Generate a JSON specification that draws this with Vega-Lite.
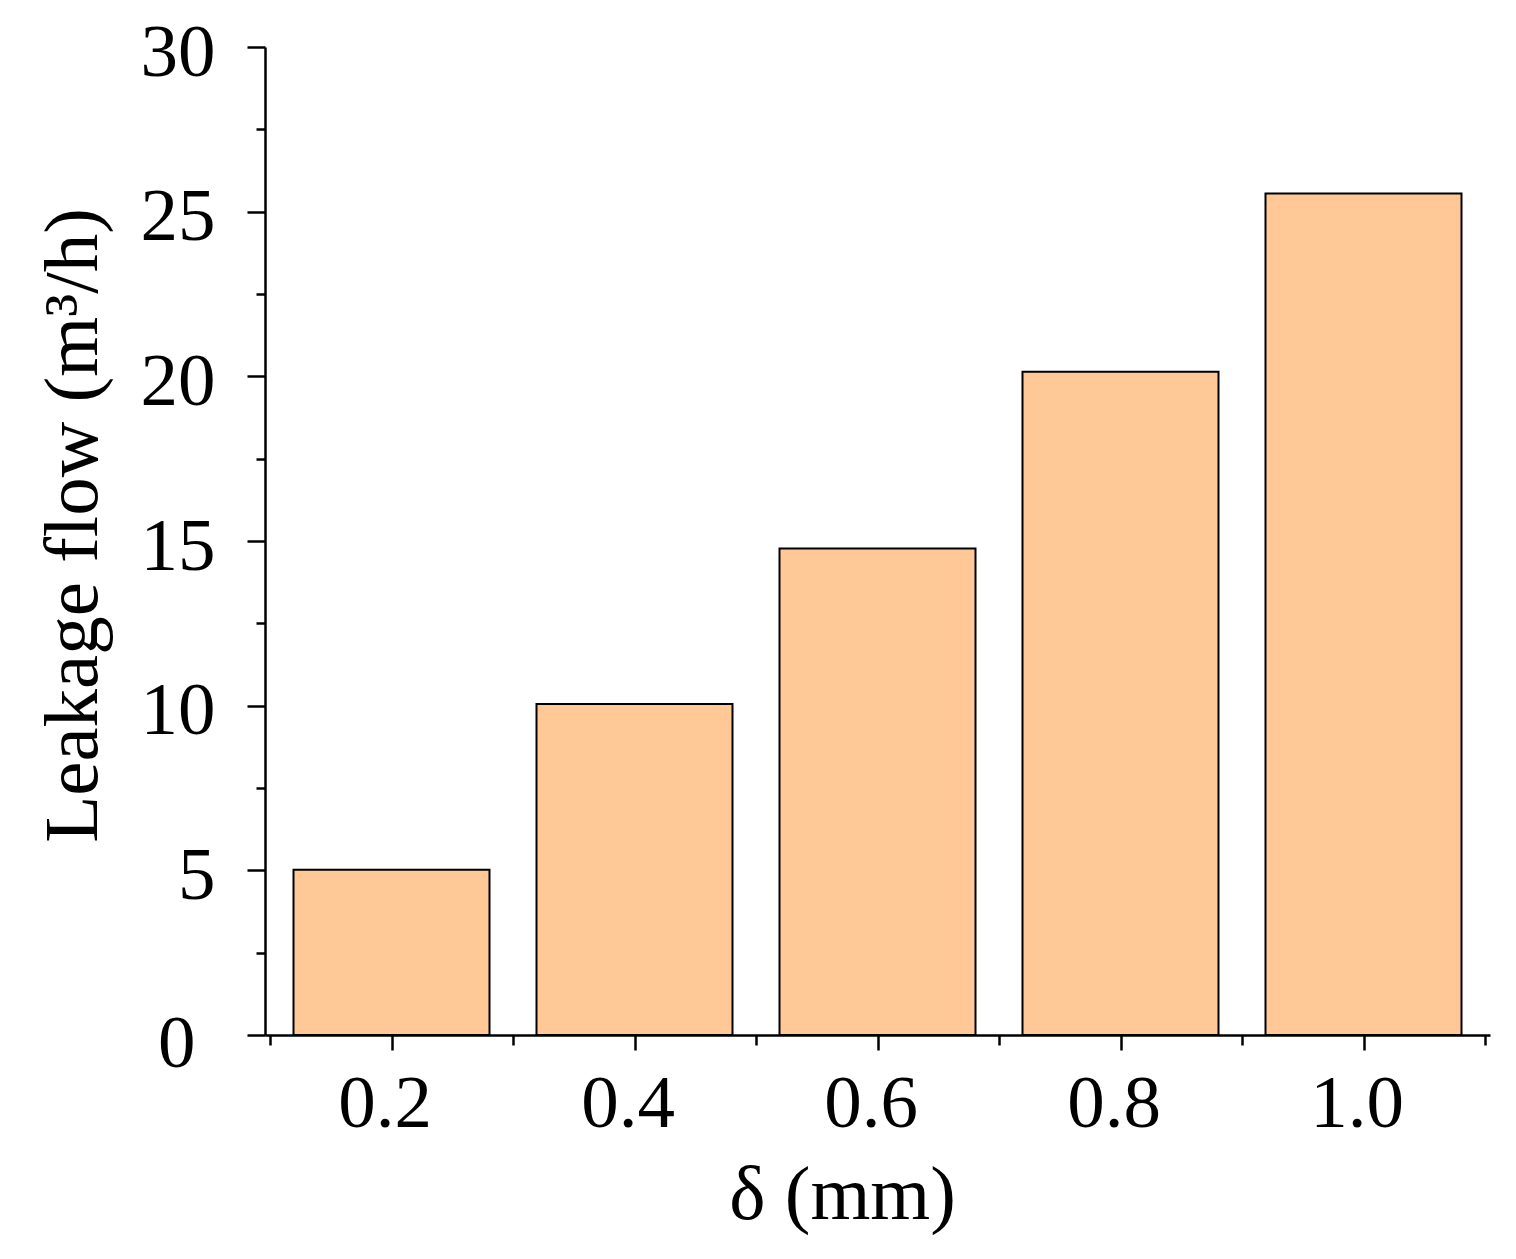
{
  "$schema": "https://vega.github.io/schema/vega-lite/v6.json",
  "width": 1225,
  "height": 988,
  "autosize": {"type": "none"},
  "padding": {"left": 265, "top": 47, "right": 26, "bottom": 224},
  "background": "white",
  "data": {
    "values": [
      {"delta": 0.2, "flow": 5.02},
      {"delta": 0.4, "flow": 10.05},
      {"delta": 0.6, "flow": 14.77},
      {"delta": 0.8, "flow": 20.14},
      {"delta": 1.0, "flow": 25.55}
    ]
  },
  "mark": {"type": "bar", "width": 196, "color": "#ffc896", "stroke": "black", "strokeWidth": 2},
  "encoding": {
    "x": {
      "field": "delta",
      "type": "quantitative",
      "title": "δ (mm)",
      "scale": {"domain": [0.1, 1.1], "nice": false, "zero": false},
      "axis": {
        "values": [0.1, 0.2, 0.3, 0.4, 0.5, 0.6, 0.7, 0.8, 0.9, 1.0, 1.1],
        "format": ".1f",
        "labelExpr": "round(datum.value * 10) % 2 === 0 ? datum.label : ''",
        "tickSize": {"condition": {"test": "round(datum.value * 10) % 2 === 0", "value": 15}, "value": 10},
        "labelPadding": 17,
        "labelOffset": -7,
        "titlePadding": 16,
        "titleX": 577,
        "grid": false
      }
    },
    "y": {
      "field": "flow",
      "type": "quantitative",
      "title": "Leakage flow (m³/h)",
      "scale": {"domain": [0, 30], "nice": false},
      "axis": {
        "values": [0, 2.5, 5, 7.5, 10, 12.5, 15, 17.5, 20, 22.5, 25, 27.5, 30],
        "labelExpr": "datum.value % 5 === 0 ? datum.label : ''",
        "tickSize": {"condition": {"test": "datum.value % 5 === 0", "value": 18}, "value": 9},
        "labelPadding": {"condition": {"test": "datum.value === 0", "value": 52}, "value": 32},
        "labelOffset": {"condition": {"test": "datum.value === 0", "value": 8}, "value": 5},
        "titlePadding": 28,
        "titleY": 478,
        "grid": false
      }
    }
  },
  "config": {
    "view": {"stroke": null},
    "font": "Liberation Serif",
    "axis": {
      "domainColor": "black",
      "domainWidth": 2.5,
      "tickColor": "black",
      "tickWidth": 2.5,
      "labelColor": "black",
      "labelFont": "Liberation Serif",
      "labelFontSize": 75,
      "titleColor": "black",
      "titleFont": "Liberation Serif",
      "titleFontSize": 77,
      "titleFontWeight": "normal"
    }
  }
}
